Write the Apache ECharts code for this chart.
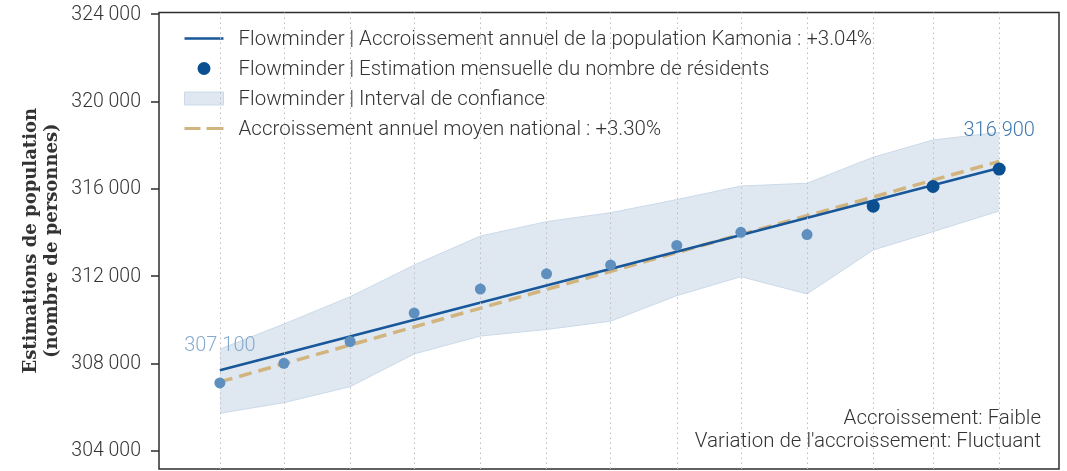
<!DOCTYPE html>
<html>
<head>
<meta charset="utf-8">
<script src="https://cdn.jsdelivr.net/npm/echarts@6/dist/echarts.min.js"></script>
<style>
html,body{margin:0;padding:0;background:#fff;}
#chart{width:1067px;height:471px;}
</style>
</head>
<body>
<div id="chart"></div>
<script>
// ---- data ----
const dates = ['2022-04-01','2022-05-01','2022-06-01','2022-07-01','2022-08-01','2022-09-01','2022-10-01','2022-11-01','2022-12-01','2023-01-01','2023-02-01','2023-03-01','2023-04-01'];
const estimates = [307100, 308000, 309000, 310300, 311400, 312100, 312500, 313400, 314000, 313900, 315200, 316100, 316900];
const ciUpper = [308650, 309800, 311050, 312500, 313830, 314490, 314900, 315500, 316120, 316250, 317440, 318230, 318580];
const ciLower = [305710, 306200, 306930, 308430, 309250, 309550, 309930, 311100, 311970, 311180, 313190, 314030, 314980];
const trendDates = ['2022-04-01', '2023-04-01'];
const kamoniaTrend = [307680, 316950];
const nationalTrend = [307150, 317250];
const yTicks = [304000, 308000, 312000, 316000, 320000, 324000];
const names = {
  trend: 'Flowminder | Accroissement annuel de la population Kamonia : +3.04%',
  points: 'Flowminder | Estimation mensuelle du nombre de résidents',
  band: 'Flowminder | Interval de confiance',
  national: 'Accroissement annuel moyen national : +3.30%'
};
const noteLines = ['Accroissement: Faible', "Variation de l'accroissement: Fluctuant"];
const yName = 'Estimations de population\n(nombre de personnes)';

// ---- helpers ----
const fmt = v => String(Math.round(v)).replace(/\B(?=(\d{3})+(?!\d))/g, ' ');
const FONT = '"Roboto Light", Roboto';
const darkBlue = '#0b4f91';
const lightPt = '#5e8fbf';
const lineBlue = '#17579a';
const tan = '#d2b47e';
const bandFill = '#dfe8f1';
const bandEdge = '#cbdae9';
const highlightFrom = 10;

const chart = echarts.init(document.getElementById('chart'), null, {renderer: 'canvas'});

const pointData = estimates.map((v, i) => {
  const hi = i >= highlightFrom;
  const item = {
    value: [dates[i], v],
    symbolSize: hi ? 13 : 11,
    itemStyle: {color: hi ? darkBlue : lightPt, opacity: 1}
  };
  if (i === 0 || i === estimates.length - 1) {
    item.label = {
      show: true,
      position: 'top',
      distance: 22,
      formatter: p => fmt(p.value[1]),
      color: i === 0 ? '#86aacd' : '#3f78ad',
      fontFamily: FONT, fontWeight: 300, fontSize: 20
    };
  }
  return item;
});

const option = {
  animation: false,
  backgroundColor: '#fff',
  grid: {
    left: 159, right: 8, top: 12.5, bottom: 2,
    show: true, borderColor: '#2e2e2e', borderWidth: 1.5,
    containLabel: false, outerBoundsMode: 'none'
  },
  legend: {
    orient: 'vertical',
    left: 184, top: 28,
    padding: 0,
    itemWidth: 39, itemHeight: 13, itemGap: 9,
    textStyle: {fontFamily: FONT, fontWeight: 300, fontSize: 20.5, color: '#333', padding: [0, 0, 0, 10], lineHeight: 20},
    selectedMode: false,
    data: [
      {name: names.trend, icon: 'path://M0,0H39V2.6H0Z', itemStyle: {color: lineBlue, borderWidth: 0}},
      {name: names.points, icon: 'circle', itemStyle: {color: darkBlue, borderWidth: 0, opacity: 1}},
      {name: names.band, icon: 'rect', itemStyle: {color: bandFill, borderColor: bandEdge, borderWidth: 1}},
      {name: names.national, icon: 'path://M0,0H16V3.2H0Z M22,0H39V3.2H22Z', itemStyle: {color: tan, borderWidth: 0}}
    ]
  },
  xAxis: {
    type: 'time',
    min: '2022-03-03 12:00',
    max: '2023-04-29 00:00',
    axisLine: {show: false},
    axisTick: {show: false},
    axisLabel: {show: false},
    splitLine: {show: false}
  },
  yAxis: {
    type: 'value',
    min: 303160,
    max: 324070,
    name: yName,
    nameLocation: 'middle',
    nameGap: 96,
    nameMoveOverlap: false,
    nameTextStyle: {fontFamily: 'DejaVu Serif', fontWeight: 'bold', fontSize: 18, color: '#333', lineHeight: 21},
    axisLine: {show: false},
    axisTick: {show: true, inside: false, length: 8, customValues: yTicks, lineStyle: {color: '#2e2e2e', width: 1.5}},
    axisLabel: {
      customValues: yTicks,
      margin: 18,
      formatter: v => fmt(v),
      fontFamily: FONT, fontWeight: 300, fontSize: 19.5, color: '#333'
    },
    splitLine: {show: false}
  },
  series: [
    {
      name: '__lower',
      type: 'line',
      stack: 'ci',
      data: ciLower.map((v, i) => [dates[i], v]),
      symbol: 'none',
      lineStyle: {color: bandEdge, width: 1},
      silent: true,
      z: 1
    },
    {
      name: names.band,
      type: 'line',
      stack: 'ci',
      data: ciUpper.map((v, i) => [dates[i], v - ciLower[i]]),
      symbol: 'none',
      lineStyle: {color: bandEdge, width: 1},
      areaStyle: {color: bandFill, opacity: 1},
      itemStyle: {color: bandFill},
      silent: true,
      z: 1
    },
    {
      name: '__grid',
      type: 'line',
      data: [],
      silent: true,
      markLine: {
        silent: true,
        symbol: 'none',
        label: {show: false},
        lineStyle: {color: '#bdbdbd', type: [1.5, 3.5], width: 1},
        data: dates.map(d => ({xAxis: d}))
      },
      z: 2
    },
    {
      name: names.national,
      type: 'line',
      data: nationalTrend.map((v, i) => [trendDates[i], v]),
      symbol: 'none',
      lineStyle: {color: tan, width: 3.5, type: [13, 7]},
      itemStyle: {color: tan},
      z: 3
    },
    {
      name: names.trend,
      type: 'line',
      data: kamoniaTrend.map((v, i) => [trendDates[i], v]),
      symbol: 'none',
      lineStyle: {color: lineBlue, width: 2.6},
      itemStyle: {color: lineBlue},
      z: 4
    },
    {
      name: names.points,
      type: 'scatter',
      data: pointData,
      itemStyle: {color: darkBlue, opacity: 1},
      z: 5
    }
  ],
  graphic: [
    {
      type: 'text',
      x: 1041, y: 429.5,
      style: {
        text: noteLines.join('\n'),
        align: 'right', verticalAlign: 'middle',
        font: '300 20.5px "Roboto Light", Roboto',
        lineHeight: 23,
        fill: '#333'
      },
      z: 10
    }
  ]
};
chart.setOption(option);
</script>
</body>
</html>
